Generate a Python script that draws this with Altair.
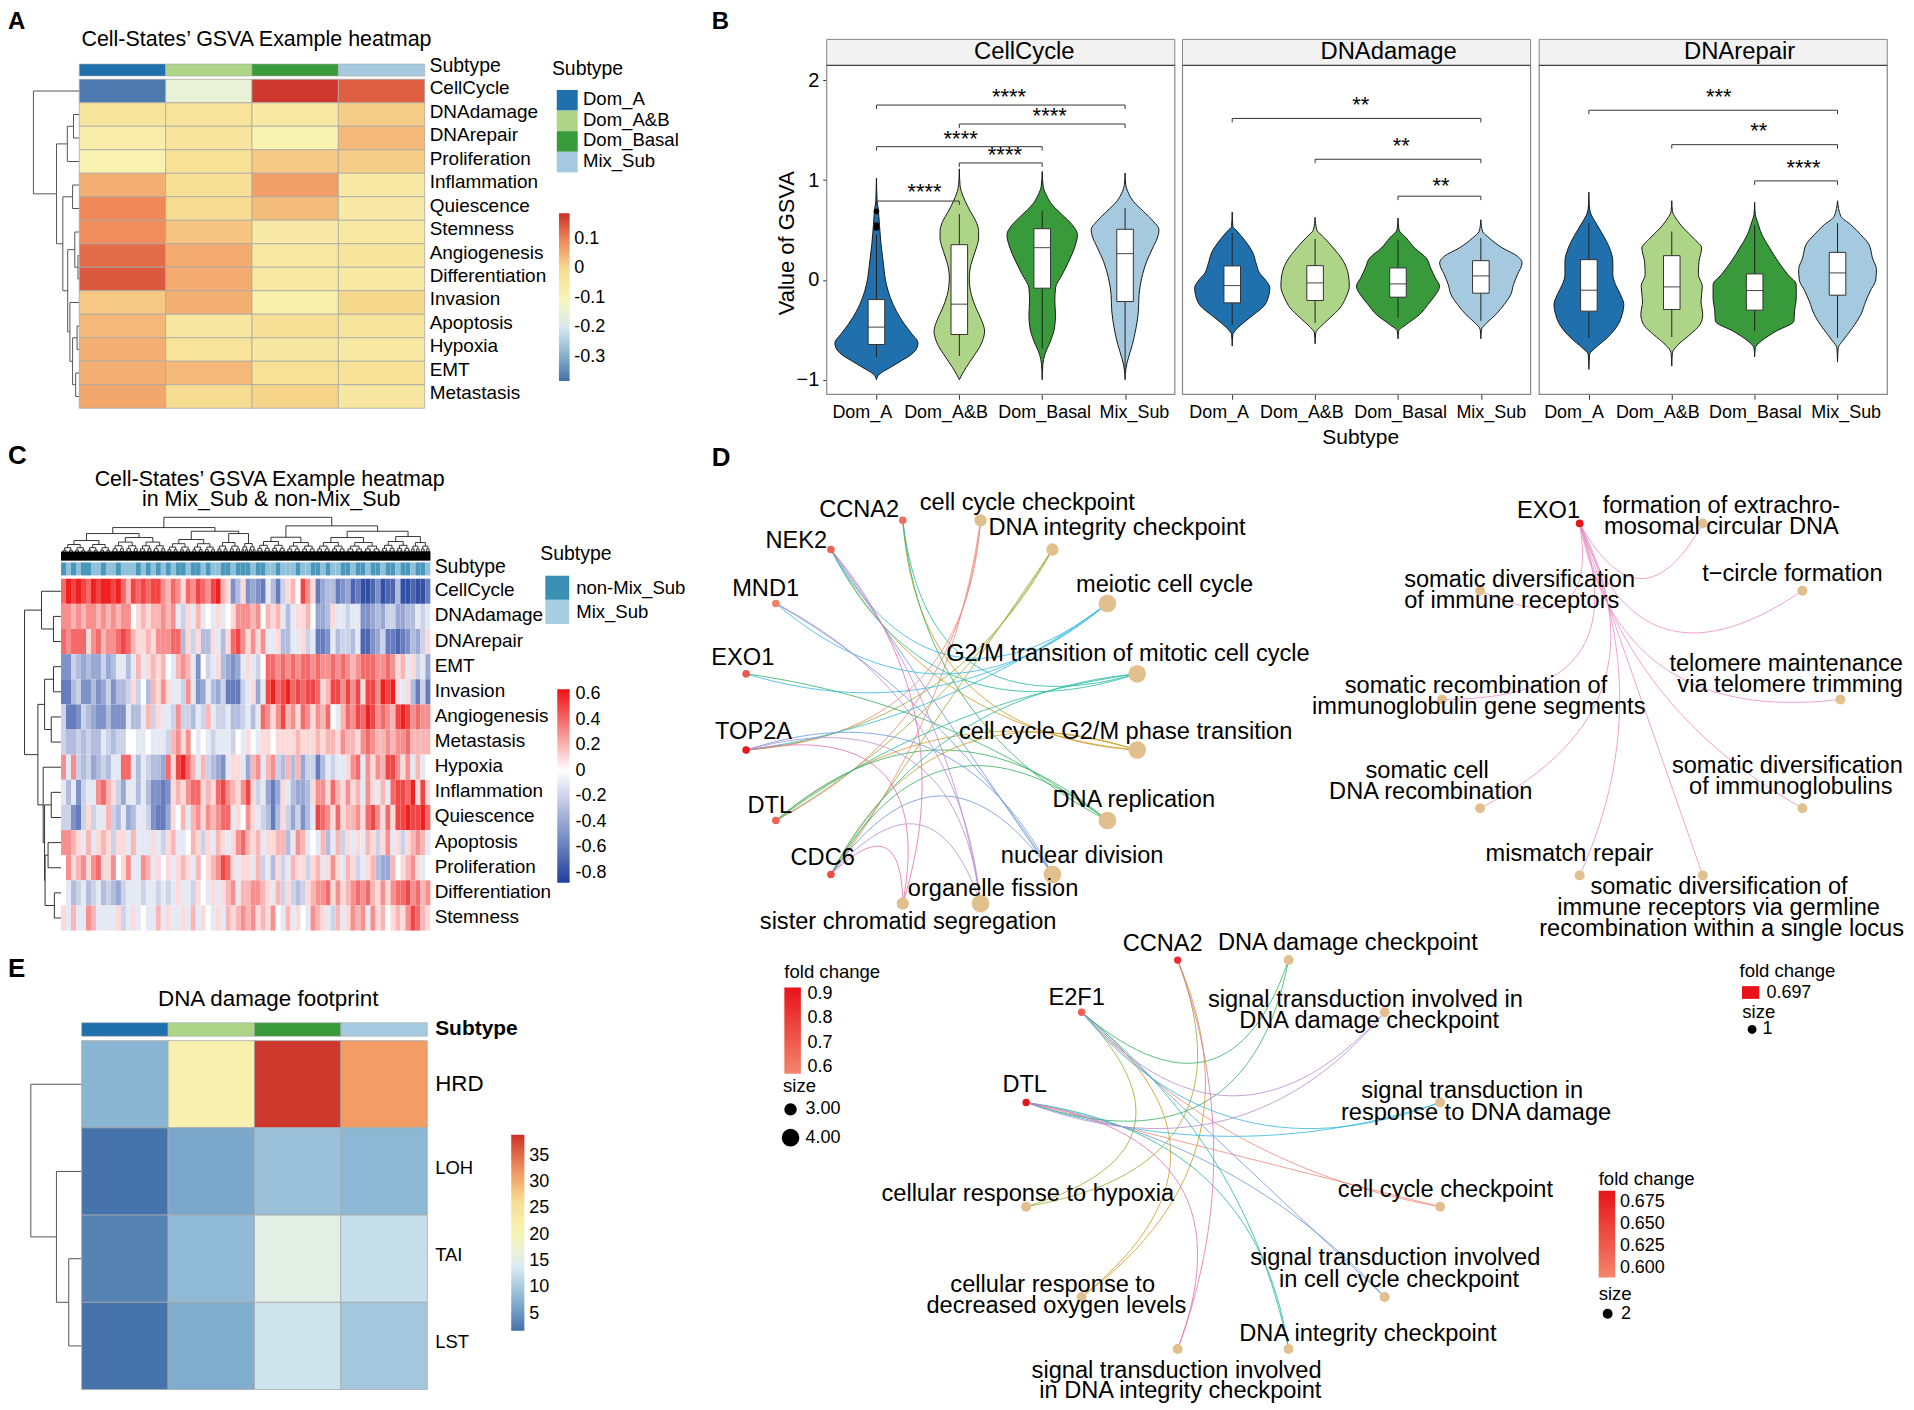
import math
import altair as alt
import pandas as pd

W, H = 1904, 1398
OFF = 8
FONT = "Liberation Sans"


def px(v):
    return v - OFF


SUBTYPES = ["Dom_A", "Dom_A&B", "Dom_Basal", "Mix_Sub"]
SUB_COLORS = ["#1F70AD", "#AED488", "#389A3A", "#A5CADF"]
RDYLBU = ["#4470AA", "#8DB8D4", "#DDEEF2", "#F8F4B4", "#F7DC90", "#F08C5A", "#CB3029"]

# ---------- Panel A ----------
a_rows = ["CellCycle", "DNAdamage", "DNArepair", "Proliferation", "Inflammation", "Quiescence", "Stemness",
          "Angiogenesis", "Differentiation", "Invasion", "Apoptosis", "Hypoxia", "EMT", "Metastasis"]
a_dom_a = [-0.37, -0.04, -0.07, -0.085, 0.05, 0.095, 0.09, 0.125, 0.145, 0.02, 0.04, 0.05, 0.05, 0.06]
a_dom_ab = [-0.15, -0.03, -0.04, -0.025, -0.02, -0.005, 0.025, 0.055, 0.055, 0.05, -0.045, -0.03, 0.04, -0.005]
a_dom_basal = [0.18, -0.05, -0.09, 0.02, 0.07, 0.035, -0.06, -0.05, -0.05, -0.08, -0.02, -0.045, -0.025, 0.005]
a_mix_sub = [0.14, 0.015, 0.04, 0.015, -0.055, -0.06, -0.05, -0.04, -0.055, 0.0, -0.04, -0.05, -0.025, -0.045]
a_tree = (46, 0, (22.8, (12, (5.8, 1, 2), 3),
                  (16.5, (6.7, 4, 5), (11.6, (4.5, 6, (1.3, 7, 8)),
                                       (9.4, 9, (6.7, (2.2, 10, 11), (3.6, 12, 13)))))))
a_dom = [-0.382, -0.287, -0.192, -0.0975, -0.003, 0.092, 0.187]

# ---------- Panel E ----------
e_rows = ["HRD", "LOH", "TAI", "LST"]
e_dom_a = [7.8, 2.0, 3.3, 2.0]
e_dom_ab = [21.5, 6.5, 8.2, 7.0]
e_dom_basal = [38.5, 9.0, 15.5, 13.0]
e_mix_sub = [31.5, 8.0, 12.5, 9.7]
e_tree = (51, 0, (25.3, 1, (13, 2, 3)))
e_dom = [1.78, 7.99, 14.2, 20.4, 26.6, 32.8, 39.03]

# ---------- Panel C ----------
c_rows = ["CellCycle", "DNAdamage", "DNArepair", "EMT", "Invasion", "Angiogenesis", "Metastasis", "Hypoxia",
          "Inflammation", "Quiescence", "Apoptosis", "Proliferation", "Differentiation", "Stemness"]
c_cellcycle = [4,6,5,6,5,4,6,5,6,6,5,6,4,2,5,4,5,4,5,5,3,2,4,3,1,4,3,5,4,3,5,6,2,1,-5,-3,1,
               -5,-4,-5,-6,-1,-3,-6,-2,1,2,0,5,3,1,-6,-4,-3,-3,-6,-5,-4,-7,-6,-8,-8,-7,-5,-8,-7,-7,-3,-8,-8,-7,-8,-8,-6]
c_dnadamage = [3,3,2,3,2,3,3,2,3,2,3,2,3,3,0,1,2,1,2,2,3,2,3,-1,-2,1,-1,2,-1,0,-1,1,-1,0,1,3,3,
               3,2,3,0,2,1,2,-1,-3,-1,1,1,2,0,-4,-4,-3,1,-1,-1,-2,-1,-1,-5,-5,-4,-3,-4,-2,-2,-4,-4,-3,-3,-1,-2,-1]
c_dnarepair = [4,3,4,4,4,1,3,4,2,3,3,4,5,4,2,1,1,2,1,3,3,3,4,4,-3,1,-2,1,-3,-3,1,-1,-3,1,4,5,3,
               1,3,1,3,-1,-1,1,-3,-3,-1,-1,1,-2,-1,-6,-6,-5,-1,-3,-2,-2,-3,-1,-7,-7,-5,-4,-2,-6,-6,-7,-6,-5,-3,-4,-2,1]
c_emt = [-5,-5,-2,-3,-4,-3,-4,-4,-2,-4,-3,-1,-1,-3,-1,2,-1,1,2,1,2,0,-1,2,3,2,-1,-5,0,-2,-1,1,-3,-4,-5,-4,-1,
         1,-1,-2,0,4,4,3,4,3,4,3,4,4,3,4,3,3,4,3,4,3,2,3,4,4,4,3,3,4,3,1,2,-1,1,-2,-1,-4]
c_invasion = [-6,-6,-3,-2,-5,-5,-3,-5,-4,-2,-5,-3,-3,-2,1,-2,0,-3,2,1,3,1,-1,-1,-2,3,-1,-5,-4,-1,-3,-4,-2,-6,-6,-6,-2,
              -1,1,-4,-1,5,6,4,5,6,4,5,4,5,5,4,1,2,5,5,3,5,3,5,1,5,5,3,6,5,6,1,-1,1,-3,-6,-2,-6]
c_angiogenesis = [-2,-6,-6,-5,-2,-3,-4,-5,-5,-3,-5,-5,-5,-1,-3,-3,-1,2,-2,1,-1,-1,-2,3,-2,-2,-3,-1,-2,2,-1,-2,-2,-1,-3,-3,-2,
                  -1,-3,-1,4,3,1,3,5,2,3,1,4,3,1,3,2,4,0,-1,2,4,3,5,4,6,5,3,4,3,2,5,6,5,3,4,3,3]
c_metastasis = [-2,-3,-3,-2,-3,-2,-3,-3,-1,-2,-3,-2,-2,0,0,-1,-1,0,-1,-1,-1,-2,2,3,1,3,0,-1,0,-1,-2,-1,-1,-1,-2,0,-1,
                1,0,-1,1,1,0,1,1,1,1,2,1,1,1,2,1,2,2,1,3,2,2,1,3,4,3,2,2,3,2,3,3,4,2,2,2,2]
c_hypoxia = [3,-1,3,-2,-3,-2,-4,-3,-2,-3,-1,-1,4,4,-1,-3,-1,-2,-3,-3,-4,4,1,5,6,4,2,-1,2,-2,-3,-4,-5,-1,1,1,-1,
             -4,2,3,-1,2,3,-2,-3,2,-3,2,-4,-2,-2,-6,-3,-1,-2,-1,-1,1,3,4,-1,3,1,3,2,5,5,3,1,3,-1,2,-1,0]
c_inflammation = [-1,-3,-1,-5,-2,-1,-1,3,4,2,1,-2,-4,-1,-1,-3,-1,-3,-5,-5,-6,-5,1,2,1,3,4,4,1,2,1,4,5,3,2,1,3,
                  5,1,-2,-1,-4,-6,-4,1,-1,-3,-4,-4,-3,1,3,3,1,4,2,1,3,1,2,-1,3,1,-1,2,-1,4,5,5,4,6,1,5,1]
c_quiescence = [-2,-2,-5,-6,-2,1,-2,-1,-1,2,-2,-3,-1,-4,-3,-1,-1,-2,-5,-6,-6,-4,1,0,2,-1,2,3,1,3,2,3,4,4,-1,1,0,
                3,1,-1,-2,-3,-6,-3,1,-2,-4,-2,-5,-3,-1,5,4,3,1,4,1,2,2,3,1,4,5,3,1,4,1,5,5,6,5,5,6,4]
c_apoptosis = [3,3,2,1,-1,2,-1,1,2,1,-2,1,1,-1,2,-1,-1,-1,1,-1,-2,1,2,-1,-1,0,2,1,-2,1,-1,2,1,-1,1,3,4,
               2,1,2,-1,1,1,2,2,-3,-1,3,2,-1,0,-1,2,-3,-1,2,-2,1,-1,1,-1,2,1,-2,1,3,-1,1,-2,1,2,3,2,-1]
c_proliferation = [0,3,1,2,3,1,3,4,1,1,3,0,1,3,-1,-1,3,2,-1,1,0,1,-1,1,2,1,-1,2,0,1,2,3,5,4,1,-1,1,
                   1,-1,2,-2,-1,-3,1,-2,-1,2,1,1,-2,1,2,-1,1,3,1,-1,2,1,-2,-1,1,2,-3,-4,-4,2,0,1,2,3,1,-1,0]
c_differentiation = [0,-1,-3,-2,-1,-3,-2,-1,-3,-2,-3,-4,-2,-1,-1,-1,-2,-1,-1,-2,-1,-2,-1,1,-1,-1,-2,1,0,-1,1,-1,1,2,3,-1,2,
                     2,3,3,2,1,-1,2,-2,1,-2,-3,-2,1,2,3,3,4,1,3,1,2,3,4,3,4,2,1,3,1,3,4,4,5,3,4,2,3]
c_stemness = [1,-1,2,-1,-1,3,2,-1,-1,-1,-1,1,-2,-1,1,-1,0,-1,-1,2,-1,1,-1,-1,1,-1,2,-1,1,0,-1,1,-1,2,1,2,3,
              2,3,1,2,1,3,0,-1,2,-1,1,0,-1,3,2,1,-1,-2,2,-1,1,3,2,3,-1,3,1,2,0,1,2,1,3,5,4,2,1]
c_mix_flags = [0,1,0,1,0,0,1,1,0,1,1,0,1,1,1,0,1,0,1,0,1,0,1,0,0,1,0,0,1,0,1,1,0,0,1,0,0,
               0,1,0,0,1,1,0,1,1,1,0,1,1,0,0,1,0,1,1,0,0,1,0,0,1,0,0,1,0,0,1,0,0,1,0,0,1]
c_matrix = [c_cellcycle, c_dnadamage, c_dnarepair, c_emt, c_invasion, c_angiogenesis, c_metastasis, c_hypoxia,
            c_inflammation, c_quiescence, c_apoptosis, c_proliferation, c_differentiation, c_stemness]
c_tree_rows = (36.6, (19.6, 0, (7.6, 1, 2)),
               (23.2, (16.5, (7.6, 3, 4), (9.8, 5, 6)),
                (17.9, 7, (16.5, (9.8, 8, 9), (16, (13, 10, 11), (6.7, 12, 13))))))


def comb(a, b, h):
    if a == b:
        return a / 4 - 0.375
    m = (a + b) // 2
    return (h, comb(a, m, h * 0.8), comb(m + 1, b, h * 0.8))


def S(a, b, h):
    return comb(a * 4, b * 4 + 3, h)


c_tree_cols = (43.3,
               (33, (27, S(0, 9, 20), S(10, 20, 23)),
                (29.3, S(21, 30, 21), (27, S(31, 35, 18), S(36, 38, 17)))),
               (34.7, (23.3, S(39, 44, 19), S(45, 50, 18)),
                (29.3, (23, S(51, 56, 18), S(57, 63, 18)), (24, S(64, 69, 19), S(70, 73, 18)))))

# ---------- Panel B : violin outlines (value, half width) ----------
cc_a_y = [-1, -.947, -.88, -.81, -.747, -.68, -.63, -.547, -.447, -.313, -.18, -.047, .187, .353, .553, .72, .787, .887, 1.02]
cc_a_w = [0, 8, 40, 75, 105, 122, 125, 108, 85, 60, 42, 30, 20, 14, 9, 5, 2, 1, 0]
cc_ab_y = [-1, -.947, -.88, -.78, -.647, -.513, -.413, -.28, -.147, .02, .153, .287, .42, .487, .587, .687, .787, .887, .953, 1.113]
cc_ab_w = [0, 8, 20, 40, 65, 76, 68, 50, 36, 30, 35, 48, 58, 58, 50, 33, 18, 6, 2, 0]
cc_b_y = [-1, -.847, -.747, -.613, -.48, -.347, -.213, -.08, .053, .187, .32, .453, .553, .653, .753, .853, .937, 1.087]
cc_b_w = [0, 2, 8, 25, 37, 40, 38, 40, 60, 80, 97, 106, 90, 60, 30, 12, 3, 0]
cc_m_y = [-1, -.88, -.78, -.647, -.48, -.313, -.147, .02, .187, .32, .453, .503, .587, .687, .787, .887, .953, 1.07]
cc_m_w = [0, 3, 10, 22, 33, 40, 42, 50, 65, 83, 100, 102, 85, 55, 25, 8, 2, 0]
da_a_y = [-.663, -.547, -.497, -.413, -.347, -.263, -.18, -.08, 0, .07, .153, .287, .387, .487, .537, .68]
da_a_w = [0, 2, 12, 40, 65, 95, 108, 113, 100, 82, 73, 60, 40, 15, 2, 0]
da_ab_y = [-.64, -.53, -.463, -.38, -.28, -.18, -.063, .053, .187, .32, .42, .503, .627]
da_ab_w = [0, 2, 18, 45, 75, 92, 103, 100, 85, 55, 28, 5, 0]
da_b_y = [-.59, -.513, -.447, -.347, -.247, -.163, -.063, .02, .12, .22, .32, .42, .503, .62]
da_b_w = [0, 2, 25, 65, 90, 110, 125, 112, 98, 85, 50, 25, 3, 0]
da_m_y = [-.59, -.497, -.43, -.347, -.247, -.147, -.047, .053, .17, .237, .32, .42, .487, .603]
da_m_w = [0, 2, 18, 45, 70, 90, 98, 110, 124, 110, 65, 25, 5, 0]
dr_a_y = [-.897, -.747, -.68, -.58, -.447, -.347, -.247, -.147, -.047, .053, .187, .32, .453, .587, .67, .753, .88]
dr_a_w = [0, 2, 20, 55, 88, 100, 105, 95, 80, 72, 72, 62, 42, 18, 5, 1, 0]
dr_ab_y = [-.863, -.73, -.647, -.547, -.447, -.347, -.213, -.063, .053, .187, .32, .403, .52, .62, .687, .793]
dr_ab_w = [0, 2, 20, 55, 85, 93, 88, 92, 80, 82, 90, 70, 35, 12, 2, 0]
dr_b_y = [-.77, -.68, -.613, -.513, -.413, -.313, -.18, -.047, .053, .187, .32, .453, .587, .653, .777]
dr_b_w = [0, 2, 20, 65, 118, 120, 125, 125, 100, 70, 45, 22, 8, 2, 0]
dr_m_y = [-.82, -.68, -.613, -.48, -.347, -.213, -.113, 0, .103, .22, .353, .453, .553, .637, .793]
dr_m_w = [0, 2, 15, 45, 70, 85, 98, 115, 117, 105, 95, 70, 40, 10, 0]

# low whisker, Q1, median, Q3, high whisker
cc_box = [(-.773, -.647, -.473, -.197, .453), (-.763, -.547, -.243, .353, .66), (-.687, -.083, .323, .513, .693), (-.9, -.217, .263, .507, .72)]
da_box = [(-.45, -.23, -.057, .14, .47), (-.43, -.206, -.03, .143, .41), (-.38, -.173, -.04, .12, .4), (-.41, -.133, .04, .193, .42)]
dr_box = [(-.58, -.313, -.103, .203, .57), (-.573, -.296, -.07, .243, .486), (-.513, -.303, -.107, .06, .55), (-.58, -.153, .07, .276, .57)]
cc_outliers = [.687, .55, .52]

# left, right, height, stars, star x, star y
cc_brackets = [(1, 4, 1.752, "****", 2.6, 1.858), (2, 4, 1.562, "****", 3.09, 1.675), (1, 3, 1.335, "****", 2.016, 1.44),
               (2, 3, 1.172, "****", 2.55, 1.279), (1, 2, .79, "****", 1.58, .91)]
da_brackets = [(1, 4, 1.618, "**", 2.55, 1.785), (2, 4, 1.209, "**", 3.04, 1.369), (3, 4, .839, "**", 3.52, .969)]
dr_brackets = [(1, 4, 1.7, "***", 2.566, 1.86), (2, 4, 1.355, "**", 3.05, 1.52), (3, 4, .992, "****", 3.59, 1.156)]

# ---------- Panel D : networks ----------
n1_genes = {"CCNA2": .65, "NEK2": .68, "MND1": .6, "EXO1": .72, "TOP2A": .92, "DTL": .68, "CDC6": .75}
n1_terms = ["sister chromatid segregation", "organelle fission", "nuclear division", "DNA replication",
            "cell cycle G2/M phase transition", "G2/M transition of mitotic cell cycle", "meiotic cell cycle",
            "DNA integrity checkpoint", "cell cycle checkpoint"]
n1_sizes = [154, 314, 314, 314, 314, 314, 314, 154, 154]
n1_links = {"cell cycle checkpoint": ["TOP2A", "DTL", "CDC6"],
            "cell cycle G2/M phase transition": ["CCNA2", "NEK2", "DTL", "CDC6"],
            "DNA integrity checkpoint": ["TOP2A", "DTL", "CDC6"],
            "DNA replication": ["CCNA2", "EXO1", "DTL", "CDC6"],
            "G2/M transition of mitotic cell cycle": ["CCNA2", "NEK2", "DTL", "CDC6"],
            "meiotic cell cycle": ["NEK2", "MND1", "EXO1", "TOP2A"],
            "nuclear division": ["NEK2", "MND1", "TOP2A", "CDC6"],
            "organelle fission": ["NEK2", "MND1", "TOP2A", "CDC6"],
            "sister chromatid segregation": ["NEK2", "TOP2A", "CDC6"]}
HUE9 = ["#F0887A", "#D09A20", "#9AAA30", "#35B060", "#25B8A0", "#30B8E0", "#6A96D8", "#B58CD0", "#E070B0"]

n2_genes = {"EXO1": .697}
n2_terms = ["somatic diversification of immune receptors", "somatic recombination of immunoglobulin gene segments",
            "somatic cell DNA recombination", "mismatch repair", "germline recombination",
            "somatic diversification of immunoglobulins", "telomere maintenance via telomere trimming",
            "t-circle formation", "formation of extrachromosomal circular DNA"]
n2_sizes = [100] * 9
n2_links = {t: ["EXO1"] for t in n2_terms}

n3_genes = {"CCNA2": .665, "E2F1": .62, "DTL": .685}
n3_terms = ["cellular response to hypoxia", "cellular response to decreased oxygen levels",
            "signal transduction involved in DNA integrity checkpoint", "DNA integrity checkpoint",
            "signal transduction involved in cell cycle checkpoint", "cell cycle checkpoint",
            "signal transduction in response to DNA damage", "signal transduction involved in DNA damage checkpoint",
            "DNA damage checkpoint"]
n3_sizes = [100] * 9
n3_links = {"cell cycle checkpoint": ["E2F1", "DTL"],
            "cellular response to decreased oxygen levels": ["CCNA2", "E2F1"],
            "cellular response to hypoxia": ["CCNA2", "E2F1"],
            "DNA damage checkpoint": ["E2F1", "DTL"],
            "DNA integrity checkpoint": ["E2F1", "DTL"],
            "signal transduction in response to DNA damage": ["E2F1", "DTL"],
            "signal transduction involved in cell cycle checkpoint": ["E2F1", "DTL"],
            "signal transduction involved in DNA damage checkpoint": ["E2F1", "DTL"],
            "signal transduction involved in DNA integrity checkpoint": ["CCNA2", "DTL"]}

TAN = "#E2C08D"
layers = []


# ---------- helpers ----------
def tree_segments(node, segs):
    if not isinstance(node, tuple):
        return node + 0.5, 0
    h, l, r = node
    pl, hl = tree_segments(l, segs)
    pr, hr = tree_segments(r, segs)
    segs.append((pl, hl, pl, h))
    segs.append((pr, hr, pr, h))
    segs.append((pl, h, pr, h))
    return (pl + pr) / 2, h


def left_tree(tree, n, leaf_x, top, bottom, color="#555555", width=1.0):
    segs = []
    tree_segments(tree, segs)
    df = pd.DataFrame(segs, columns=["p1", "h1", "p2", "h2"])
    xs = alt.Scale(domain=[0, 100], range=[px(leaf_x), px(leaf_x - 100)])
    ys = alt.Scale(domain=[0, n], range=[px(top), px(bottom)])
    layers.append(alt.Chart(df).mark_rule(color=color, strokeWidth=width).encode(
        x=alt.X("h1:Q", scale=xs, axis=None), x2="h2:Q",
        y=alt.Y("p1:Q", scale=ys, axis=None), y2="p2:Q"))


def heat(rows, cols, table, x0, x1, y0, y1, colors, dom, legend, stroke="#A8A8A8", label_x=None, label_size=19, label_dy=0):
    recs = [{"r": rows[i], "c": c, "v": table[i][j]} for j, c in enumerate(cols)
            for i in range(len(rows)) if j < len(table[i])]
    xs = alt.Scale(domain=list(cols), range=[px(x0), px(x1)])
    ys = alt.Scale(domain=list(rows), range=[px(y0), px(y1)])
    kw = {"stroke": stroke, "strokeWidth": 0.8} if stroke else {}
    layers.append(alt.Chart(pd.DataFrame(recs)).mark_rect(**kw).encode(
        x=alt.X("c:O", scale=xs, axis=None),
        y=alt.Y("r:N", scale=ys, axis=None),
        color=alt.Color("v:Q", scale=alt.Scale(domain=dom, range=colors, interpolate="rgb"), legend=legend)))
    if label_x is not None:
        layers.append(alt.Chart(pd.DataFrame({"r": rows})).mark_text(
            align="left", baseline="middle", font=FONT, fontSize=label_size, color="black", dy=label_dy).encode(
            x=alt.value(px(label_x)), y=alt.Y("r:N", scale=ys, axis=None), text="r:N"))


def cat_bar(cats, x0, x1, y0, y1, domain, colors, stroke="#A8A8A8"):
    df = pd.DataFrame({"i": list(range(len(cats))), "cat": cats})
    kw = {"stroke": stroke, "strokeWidth": 0.6} if stroke else {}
    layers.append(alt.Chart(df).mark_rect(**kw).encode(
        x=alt.X("i:O", scale=alt.Scale(domain=list(range(len(cats))), range=[px(x0), px(x1)]), axis=None),
        y=alt.value(px(y0)), y2=alt.value(px(y1)),
        color=alt.Color("cat:N", scale=alt.Scale(domain=domain, range=colors), legend=None)))


def swatches(cats, colors, x0, x1, y0, y1, label_x, size=18.6, dy=-1):
    ys = alt.Scale(domain=cats, range=[px(y0), px(y1)])
    df = pd.DataFrame({"cat": cats})
    layers.append(alt.Chart(df).mark_rect().encode(
        x=alt.value(px(x0)), x2=alt.value(px(x1)), y=alt.Y("cat:N", scale=ys, axis=None),
        color=alt.Color("cat:N", scale=alt.Scale(domain=cats, range=colors), legend=None)))
    layers.append(alt.Chart(df).mark_text(align="left", baseline="middle", font=FONT, fontSize=size, dy=dy).encode(
        x=alt.value(px(label_x)), y=alt.Y("cat:N", scale=ys, axis=None), text="cat:N"))


def grad(x, y, length, thick, values, offset, fmt=None, expr=None):
    kw = dict(orient="none", legendX=px(x), legendY=px(y), title=None, gradientLength=length, gradientThickness=thick,
              gradientStrokeWidth=0, values=values, labelFont=FONT, labelFontSize=18, labelColor="black",
              labelOffset=offset, labelOverlap=False, padding=0, tickCount=len(values))
    if fmt:
        kw["format"] = fmt
    if expr:
        kw["labelExpr"] = expr
    return alt.Legend(**kw)


# ---------- heatmap A ----------
cat_bar(SUBTYPES, 79.5, 426, 62, 74, SUBTYPES, SUB_COLORS)
left_tree(a_tree, 14, 79.5, 77.3, 407.3)
heat(a_rows, SUBTYPES, [list(t) for t in zip(a_dom_a, a_dom_ab, a_dom_basal, a_mix_sub)],
     79.5, 426, 77.3, 407.3, RDYLBU, a_dom,
     grad(560.7, 211.7, 168.3, 10.7, [-0.3, -0.2, -0.1, 0, 0.1], 4.6, expr="''+datum.value"), label_x=431, label_dy=-3)
swatches(SUBTYPES, SUB_COLORS, 558.5, 579.5, 88, 170.7, 584.8)

# ---------- heatmap C ----------
c_cols = list(range(74))
c_labels = ["Mix_Sub" if f else "non-Mix_Sub" for f in c_mix_flags]
cat_bar(c_labels, 61.2, 431.7, 562, 575, ["non-Mix_Sub", "Mix_Sub"], ["#4A97BC", "#8FC2DA"], stroke=None)
left_tree(c_tree_rows, 14, 61.2, 578.3, 931.3, color="#333333")
top_segs = []
tree_segments(c_tree_cols, top_segs)
top_df = pd.DataFrame(top_segs, columns=["p1", "h1", "p2", "h2"])
top_x = alt.Scale(domain=[0, 74], range=[px(61.2), px(431.7)])
top_y = alt.Scale(domain=[0, 50], range=[px(560), px(510)])
layers.append(alt.Chart(top_df).mark_rule(color="#222222", strokeWidth=0.9).encode(
    x=alt.X("p1:Q", scale=top_x, axis=None), x2="p2:Q", y=alt.Y("h1:Q", scale=top_y, axis=None), y2="h2:Q"))
layers.append(alt.Chart(pd.DataFrame({"a": [0], "b": [74], "l": [0], "u": [9]})).mark_rect(color="black").encode(
    x=alt.X("a:Q", scale=top_x, axis=None), x2="b:Q", y=alt.Y("l:Q", scale=top_y, axis=None), y2="u:Q"))
heat(c_rows, c_cols, [[v / 10 for v in row] for row in c_matrix],
     61.2, 431.7, 578.3, 931.3, ["#1F3F9E", "#FFFFFF", "#EE1111"], [-0.878, 0, 0.639],
     grad(559, 689.3, 194, 12.4, [-0.8, -0.6, -0.4, -0.2, 0, 0.2, 0.4, 0.6], 6, expr="''+datum.value"),
     stroke=None, label_x=436, label_dy=-1)
swatches(["non-Mix_Sub", "Mix_Sub"], ["#3A8FB5", "#A5CEE0"], 547, 571, 575.3, 623.7, 578, dy=0)

# ---------- heatmap E ----------
cat_bar(SUBTYPES, 81.9, 428.6, 1023.7, 1037.3, SUBTYPES, SUB_COLORS)
left_tree(e_tree, 4, 81.9, 1041.7, 1391.7)
heat(e_rows, SUBTYPES, [list(t) for t in zip(e_dom_a, e_dom_ab, e_dom_basal, e_mix_sub)],
     81.9, 428.6, 1041.7, 1391.7, RDYLBU, e_dom,
     grad(512.8, 1136, 196.7, 13.2, [5, 10, 15, 20, 25, 30, 35], 5))


# ---------- violins B ----------
def panel(x0, violins, boxes, brackets, outliers=None, with_y=False):
    xs = alt.Scale(domain=[0.4, 4.6], range=[px(x0), px(x0 + 349.2)])
    ys = alt.Scale(domain=[-1.146, 2.15], range=[px(393.3), px(63.3)])
    y_axis = alt.Axis(orient="left", values=[-1, 0, 1, 2], title=None, grid=False, domain=False, tickColor="#333333",
                      tickSize=4, labelFont=FONT, labelFontSize=20, labelColor="black", labelPadding=4, format="d",
                      offset=-px(x0)) if with_y else None
    x_axis = alt.Axis(orient="bottom", values=[1, 2, 3, 4], labels=False, title=None, grid=False, domain=False,
                      tickColor="#333333", tickSize=5, offset=-(H - px(393.3)))
    bg = pd.DataFrame({"a": [0.4], "b": [4.6], "l": [-1.146], "u": [2.15]})
    layers.append(alt.Chart(bg).mark_rect(color="white", stroke="#888888", strokeWidth=1.2).encode(
        x=alt.X("a:Q", scale=xs, axis=x_axis), x2="b:Q",
        y=alt.Y("l:Q", scale=ys, axis=y_axis), y2="u:Q"))
    strip = pd.DataFrame({"a": [0.4], "b": [4.6], "l": [2.15], "u": [2.41]})
    layers.append(alt.Chart(strip).mark_rect(color="#F2F2F2", stroke="#888888", strokeWidth=1.0).encode(
        x=alt.X("a:Q", scale=xs, axis=None), x2="b:Q", y=alt.Y("l:Q", scale=ys, axis=None), y2="u:Q"))
    layers.append(alt.Chart(strip).mark_rule(color="#333333", strokeWidth=1.0).encode(
        x=alt.X("a:Q", scale=xs, axis=None), x2="b:Q", y=alt.Y("l:Q", scale=ys, axis=None)))
    recs = []
    for i, (vy, vw) in enumerate(violins):
        for a, b in zip(vy, vw):
            recs.append({"sub": SUBTYPES[i], "y": a, "l": i + 1 - b / 249.3, "r": i + 1 + b / 249.3})
    layers.append(alt.Chart(pd.DataFrame(recs)).mark_area(
        orient="horizontal", interpolate="monotone", stroke="#1A1A1A", strokeWidth=1).encode(
        y=alt.Y("y:Q", scale=ys, axis=None), x=alt.X("l:Q", scale=xs, axis=None), x2="r:Q",
        color=alt.Color("sub:N", scale=alt.Scale(domain=SUBTYPES, range=SUB_COLORS), legend=None)))
    bx = pd.DataFrame([{"p": i + 1, "a": i + 0.9, "b": i + 1.1, "lo": t[0], "q1": t[1], "m": t[2], "q3": t[3], "hi": t[4]}
                       for i, t in enumerate(boxes)])
    layers.append(alt.Chart(bx).mark_rule(color="#222222", strokeWidth=1).encode(
        x=alt.X("p:Q", scale=xs, axis=None), y=alt.Y("lo:Q", scale=ys, axis=None), y2="hi:Q"))
    layers.append(alt.Chart(bx).mark_rect(color="white", stroke="#333333", strokeWidth=1).encode(
        x=alt.X("a:Q", scale=xs, axis=None), x2="b:Q", y=alt.Y("q1:Q", scale=ys, axis=None), y2="q3:Q"))
    layers.append(alt.Chart(bx).mark_rule(color="#444444", strokeWidth=1).encode(
        x=alt.X("a:Q", scale=xs, axis=None), x2="b:Q", y=alt.Y("m:Q", scale=ys, axis=None)))
    if outliers:
        layers.append(alt.Chart(pd.DataFrame({"p": [1] * len(outliers), "y": outliers})).mark_circle(
            color="black", size=32, opacity=1).encode(
            x=alt.X("p:Q", scale=xs, axis=None), y=alt.Y("y:Q", scale=ys, axis=None)))
    segs = []
    for a, b, y, _, _, _ in brackets:
        segs += [(a, y, b, y), (a, y - 0.04, a, y), (b, y - 0.04, b, y)]
    layers.append(alt.Chart(pd.DataFrame(segs, columns=["a", "l", "b", "u"])).mark_rule(
        color="#333333", strokeWidth=1).encode(
        x=alt.X("a:Q", scale=xs, axis=None), x2="b:Q", y=alt.Y("l:Q", scale=ys, axis=None), y2="u:Q"))
    stars = pd.DataFrame([{"t": s[3], "x": s[4], "y": s[5]} for s in brackets])
    layers.append(alt.Chart(stars).mark_text(font=FONT, fontSize=22, baseline="middle", dy=3, color="black").encode(
        x=alt.X("x:Q", scale=xs, axis=None), y=alt.Y("y:Q", scale=ys, axis=None), text="t:N"))


panel(829.3, [(cc_a_y, cc_a_w), (cc_ab_y, cc_ab_w), (cc_b_y, cc_b_w), (cc_m_y, cc_m_w)], cc_box, cc_brackets,
      outliers=cc_outliers, with_y=True)
panel(1186.2, [(da_a_y, da_a_w), (da_ab_y, da_ab_w), (da_b_y, da_b_w), (da_m_y, da_m_w)], da_box, da_brackets)
panel(1544, [(dr_a_y, dr_a_w), (dr_ab_y, dr_ab_w), (dr_b_y, dr_b_w), (dr_m_y, dr_m_w)], dr_box, dr_brackets)


# ---------- networks D ----------
def network(genes, terms, sizes, links, start, cx, cy, rx, ry, gene_size, palette, pal_terms, fc_dom, fc_legend):
    names = list(genes) + terms
    n = len(names)
    step = 360.0 / n
    pos = {nm: (math.cos(math.radians(start + step * i)), math.sin(math.radians(start + step * i)))
           for i, nm in enumerate(names)}
    xs = alt.Scale(domain=[-1, 1], range=[px(cx - rx), px(cx + rx)])
    ys = alt.Scale(domain=[-1, 1], range=[px(cy + ry), px(cy - ry)])
    recs = []
    for term, gs in links.items():
        for g in gs:
            ax, ay = pos[g]
            bx, by = pos[term]
            mx, my = (ax + bx) / 2, (ay + by) / 2
            d = math.hypot(mx, my)
            chord = math.hypot(ax - bx, ay - by)
            bulge = d * min(0.65, 0.1 + chord / 2.9)
            k = 2 * bulge / d if d > 1e-6 else 0
            qx, qy = mx - mx * k, my - my * k
            for s in range(31):
                t = s / 30
                recs.append({"edge": g + "|" + term, "term": term, "t": s,
                             "x": (1 - t) ** 2 * ax + 2 * t * (1 - t) * qx + t * t * bx,
                             "y": (1 - t) ** 2 * ay + 2 * t * (1 - t) * qy + t * t * by})
    layers.append(alt.Chart(pd.DataFrame(recs)).mark_line(strokeWidth=0.9, opacity=0.9).encode(
        x=alt.X("x:Q", scale=xs, axis=None), y=alt.Y("y:Q", scale=ys, axis=None),
        detail="edge:N", order="t:Q",
        color=alt.Color("term:N", scale=alt.Scale(domain=pal_terms, range=palette), legend=None)))
    tdf = pd.DataFrame([{"x": pos[t][0], "y": pos[t][1], "s": s} for t, s in zip(terms, sizes)])
    layers.append(alt.Chart(tdf).mark_circle(color=TAN, opacity=1).encode(
        x=alt.X("x:Q", scale=xs, axis=None), y=alt.Y("y:Q", scale=ys, axis=None),
        size=alt.Size("s:Q", scale=None, legend=None)))
    gdf = pd.DataFrame([{"x": pos[g][0], "y": pos[g][1], "fc": v} for g, v in genes.items()])
    layers.append(alt.Chart(gdf).mark_circle(size=gene_size, opacity=1).encode(
        x=alt.X("x:Q", scale=xs, axis=None), y=alt.Y("y:Q", scale=ys, axis=None),
        color=alt.Color("fc:Q", scale=alt.Scale(domain=fc_dom, range=["#F4866C", "#E8131A"], interpolate="rgb"),
                        legend=fc_legend)))


n1_alpha = ["cell cycle checkpoint", "cell cycle G2/M phase transition", "DNA integrity checkpoint", "DNA replication",
            "G2/M transition of mitotic cell cycle", "meiotic cell cycle", "nuclear division", "organelle fission",
            "sister chromatid segregation"]
n3_alpha = ["cell cycle checkpoint", "cellular response to decreased oxygen levels", "cellular response to hypoxia",
            "DNA damage checkpoint", "DNA integrity checkpoint", "signal transduction in response to DNA damage",
            "signal transduction involved in cell cycle checkpoint",
            "signal transduction involved in DNA damage checkpoint",
            "signal transduction involved in DNA integrity checkpoint"]
network(n1_genes, n1_terms, n1_sizes, n1_links, 101.25, 944.6, 712, 200, 196, 58, HUE9, n1_alpha, [0.573, 0.926],
        grad(786.8, 988.3, 86.7, 16.6, [0.6, 0.7, 0.8, 0.9], 6.6, fmt=".1f"))
network(n2_genes, n2_terms, n2_sizes, n2_links, 108, 1646.4, 699.4, 199.8, 185.6, 60, ["#E98CC4"] * 9, n2_terms,
        [0.5, 0.7], None)
network(n3_genes, n3_terms, n3_sizes, n3_links, 105, 1237, 1156, 215, 202, 55, HUE9, n3_alpha, [0.5896, 0.6873],
        grad(1603.7, 1192.3, 87, 16.6, [0.6, 0.625, 0.65, 0.675], 4.7, fmt=".3f"))

# swatch and size keys of the network legends
key_rect = pd.DataFrame({"t": ["0.697"]})
layers.append(alt.Chart(key_rect).mark_rect(color="#E8131A").encode(
    x=alt.value(px(1747.5)), x2=alt.value(px(1764.8)), y=alt.value(px(987)), y2=alt.value(px(999.8))))
for kx, ky, kr in [(793, 1110.7, 7), (793, 1139, 10), (1612.7, 1315.7, 5.6), (1757.6, 1030.5, 5)]:
    layers.append(alt.Chart(pd.DataFrame({"k": [1]})).mark_circle(color="black", opacity=1).encode(
        x=alt.value(px(kx)), y=alt.value(px(ky)), size=alt.value(math.pi * kr * kr)))

# ---------- texts ----------
NET = 23.7
texts_left = [
    ("A", 8, 20, 24, "b"), ("B", 714, 20, 24, "b"), ("C", 8, 455, 26, "b"), ("D", 714, 457, 26, "b"), ("E", 8, 970, 26, "b"),
    ("Cell-States’ GSVA Example heatmap", 81.7, 38.3, 21.5, ""), ("Subtype", 430.8, 63.5, 19.5, ""),
    ("Subtype", 553.6, 67, 19.5, ""), ("Subtype", 436, 566.7, 19.5, ""), ("Subtype", 542, 554, 19.5, ""),
    ("Subtype", 436.5, 1030, 21, "b"),
    ("cell cycle checkpoint", 922.6, 502.7, NET, ""), ("DNA integrity checkpoint", 991.5, 527.3, NET, ""),
    ("meiotic cell cycle", 1079.4, 585, NET, ""), ("G2/M transition of mitotic cell cycle", 949.2, 654, NET, ""),
    ("cell cycle G2/M phase transition", 962, 732.3, NET, ""), ("DNA replication", 1055.7, 800, NET, ""),
    ("nuclear division", 1003.9, 856.7, NET, ""), ("organelle fission", 910.6, 889.3, NET, ""),
    ("sister chromatid segregation", 762.2, 922.7, NET, ""),
    ("EXO1", 1521.8, 510.7, NET, ""), ("somatic diversification", 1408.6, 579.5, NET, ""),
    ("of immune receptors", 1408.6, 600.2, NET, ""),
    ("DNA damage checkpoint", 1221.7, 943.3, NET, ""),
    ("fold change", 786.8, 973, 18.6, ""), ("size", 785.5, 1087.7, 18.6, ""), ("3.00", 808, 1110.7, 18, ""), ("4.00", 808, 1139, 18, ""),
    ("fold change", 1745, 972, 18.6, ""), ("0.697", 1772, 993.5, 18, ""), ("size", 1747.8, 1012.7, 18.6, ""), ("1", 1768, 1030.5, 18, ""),
    ("fold change", 1603.7, 1180.7, 18.6, ""), ("size", 1603.7, 1295.7, 18.6, ""), ("2", 1626, 1315.7, 18, ""),
    ("HRD", 436.5, 1085, 22.4, ""), ("LOH", 436.5, 1169, 18.5, ""), ("TAI", 436.5, 1257, 18.5, ""), ("LST", 436.5, 1344, 18.5, ""),
]
texts_right = [
    ("CCNA2", 902, 509.3, NET, ""), ("NEK2", 829.8, 540, NET, ""), ("MND1", 801.6, 588.3, NET, ""),
    ("EXO1", 776.7, 658, NET, ""), ("TOP2A", 794.5, 732.3, NET, ""), ("DTL", 794.5, 806.7, NET, ""), ("CDC6", 857.5, 858.3, NET, ""),
    ("telomere maintenance", 1909, 663.9, NET, ""), ("via telomere trimming", 1909, 685, NET, ""),
]
texts_center = [
    ("Cell-States’ GSVA Example heatmap", 270.5, 479, 21.5, ""), ("in Mix_Sub & non-Mix_Sub", 272, 499, 21.5, ""),
    ("DNA damage footprint", 269, 1000, 22.5, ""),
    ("CellCycle", 1027.5, 50, 23.9, ""), ("DNAdamage", 1393, 50, 23.9, ""), ("DNArepair", 1745, 50, 23.9, ""),
    ("Subtype", 1365, 437, 21, ""),
    ("Dom_A", 865, 412, 18, ""), ("Dom_A&B", 949, 412, 18, ""), ("Dom_Basal", 1048, 412, 18, ""), ("Mix_Sub", 1138, 412, 18, ""),
    ("Dom_A", 1223, 412, 18, ""), ("Dom_A&B", 1306, 412, 18, ""), ("Dom_Basal", 1405, 412, 18, ""), ("Mix_Sub", 1496, 412, 18, ""),
    ("Dom_A", 1579, 412, 18, ""), ("Dom_A&B", 1663, 412, 18, ""), ("Dom_Basal", 1761, 412, 18, ""), ("Mix_Sub", 1852, 412, 18, ""),
    ("formation of extrachro-", 1726.8, 505.5, NET, ""), ("mosomal circular DNA", 1726.8, 526.6, NET, ""),
    ("t−circle formation", 1798, 573.6, NET, ""),
    ("somatic recombination of", 1480.6, 686.4, NET, ""), ("immunoglobulin gene segments", 1483.4, 707.5, NET, ""),
    ("somatic cell", 1431.6, 771.5, NET, ""), ("DNA recombination", 1435.3, 792.2, NET, ""),
    ("somatic diversification", 1793, 766, NET, ""), ("of immunoglobulins", 1796.4, 787.4, NET, ""),
    ("mismatch repair", 1574.4, 854.8, NET, ""),
    ("somatic diversification of", 1724.4, 887.3, NET, ""), ("immune receptors via germline", 1724, 908.8, NET, ""),
    ("recombination within a single locus", 1727, 930.2, NET, ""),
    ("CCNA2", 1166.3, 944.3, NET, ""), ("E2F1", 1080, 999.3, NET, ""), ("DTL", 1027.9, 1086, NET, ""),
    ("signal transduction involved in", 1369.7, 1000.7, NET, ""), ("DNA damage checkpoint", 1373.5, 1022, NET, ""),
    ("signal transduction in", 1476.8, 1092.7, NET, ""), ("response to DNA damage", 1480.7, 1114, NET, ""),
    ("cell cycle checkpoint", 1450, 1192, NET, ""),
    ("signal transduction involved", 1399.7, 1260, NET, ""), ("in cell cycle checkpoint", 1403.5, 1281.7, NET, ""),
    ("DNA integrity checkpoint", 1372.2, 1336, NET, ""),
    ("signal transduction involved", 1180.3, 1372.7, NET, ""), ("in DNA integrity checkpoint", 1184, 1393.3, NET, ""),
    ("cellular response to", 1056, 1286.7, NET, ""), ("decreased oxygen levels", 1059.7, 1307.7, NET, ""),
    ("cellular response to hypoxia", 1031, 1196, NET, ""),
]


def text_layer(items, align):
    for weight, flag in (("normal", ""), ("bold", "b")):
        sel = [t for t in items if t[4] == flag]
        if not sel:
            continue
        df = pd.DataFrame([{"t": t[0], "x": px(t[1]), "y": px(t[2]), "s": t[3]} for t in sel])
        layers.append(alt.Chart(df).mark_text(align=align, baseline="middle", font=FONT, fontWeight=weight,
                                              color="black").encode(
            x=alt.X("x:Q", scale=None, axis=None), y=alt.Y("y:Q", scale=None, axis=None), text="t:N",
            size=alt.Size("s:Q", scale=None, legend=None)))


text_layer(texts_left, "left")
text_layer(texts_right, "right")
text_layer(texts_center, "center")
layers.append(alt.Chart(pd.DataFrame({"t": ["Value of GSVA"]})).mark_text(
    align="center", baseline="middle", font=FONT, fontSize=22, angle=270, color="black").encode(
    x=alt.value(px(789)), y=alt.value(px(241.7)), text="t:N"))

chart = alt.layer(*layers).resolve_scale(
    x="independent", y="independent", color="independent", size="independent"
).properties(width=W, height=H, padding=0, autosize=alt.AutoSizeParams(type="none"),
             background="white").configure_view(stroke=None)
chart.save("out.html", embed_options={"renderer": "svg", "actions": False})
